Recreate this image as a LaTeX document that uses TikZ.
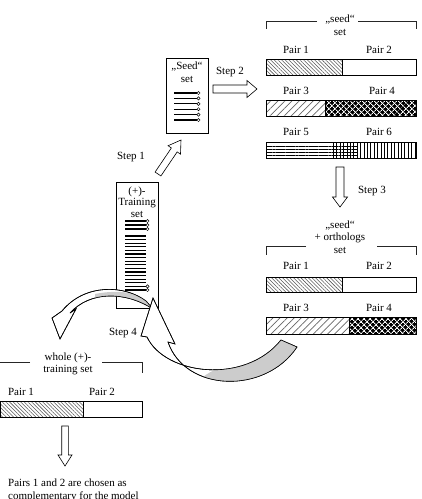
\documentclass[tikz,border=0pt]{standalone}
\usepackage{fontspec}
\setmainfont{Liberation Serif}
\usetikzlibrary{calc,patterns,patterns.meta}
\newcommand\blkarrow[5]{%
  \coordinate (#2-hb) at ($(#2)!#5!(#1)$);
  \draw[blockarrow] ($(#1)!#3!90:(#2)$) -- ($(#2-hb)!#3!-90:(#1)$) -- ($(#2-hb)!#4!-90:(#1)$) -- (#2) -- ($(#2-hb)!#4!90:(#1)$) -- ($(#2-hb)!#3!90:(#1)$) -- ($(#1)!#3!-90:(#2)$) -- cycle;}
\tikzset{
  box/.style={draw, line width=0.7pt, fill=white, inner sep=0pt},
  blockarrow/.style={draw, line width=0.6pt, fill=white, line join=miter},
  lbl/.style={font=\fontsize{11}{12.5}\selectfont, inner sep=0pt, align=center},
  bracket/.style={line width=0.7pt, draw=black!85},
  bar/.style={draw, line width=0.7pt},
  seqline/.style={line width=1.1pt},
  endcirc/.style={draw, line width=0.5pt, fill=white},
  curvband/.style={draw, line width=0.6pt, line join=miter},
  hatchA/.style={pattern={Lines[angle=-45,distance=2.6pt,line width=0.55pt]}, pattern color=black!65},
  hatchB/.style={pattern={Lines[angle=45,distance=5pt,line width=0.7pt]}, pattern color=black!60},
  hlines/.style={pattern={Lines[angle=0,distance=3.3pt,line width=0.6pt]}, pattern color=black},
  vlines/.style={pattern={Lines[angle=90,distance=3.4pt,line width=0.6pt]}, pattern color=black},
  xwhiteA/.style={pattern={Lines[angle=45,distance=4pt,line width=0.9pt]}, pattern color=white},
  xwhiteB/.style={pattern={Lines[angle=-45,distance=4pt,line width=0.9pt]}, pattern color=white},
}
\begin{document}
\begin{tikzpicture}[x=1pt,y=-1pt]
\useasboundingbox (0,0) rectangle (422,499);

% ---------- seed box ----------
\node[box, minimum width=42pt, minimum height=75pt] (seedbox) at (187,95.5) {};
\node[lbl] (seedtitle) at (187,72) {„Seed“\\set};
\foreach \i in {0,...,5} {
  \draw[seqline] (174,{93+5.4*\i}) -- (197,{93+5.4*\i});
  \draw[endcirc] (198.5,{93+5.4*\i}) circle (1.6pt);
}

% ---------- training box ----------
\node[box, minimum width=42pt, minimum height=126pt] (trainbox) at (137,245) {};
\node[lbl, font=\fontsize{11}{11.5}\selectfont] (traintitle) at (137,202) {(+)-\\Training\\set};
\foreach \i in {0,1,2} {
  \draw[seqline] (125,{221+4*\i}) -- (146,{221+4*\i});
  \draw[endcirc] (147.5,{221+4*\i}) circle (1.6pt);
}
\foreach \i in {0,...,15} {
  \draw[seqline] (125,{236+3.6*\i}) -- (146,{236+3.6*\i});
}
\foreach \i in {14,15} {
  \draw[endcirc] (147.5,{236+3.6*\i}) circle (1.6pt);
}

% ---------- step 1 / step 2 arrows ----------
\coordinate (a1s) at (158,174); \coordinate (a1e) at (181,140);
\blkarrow{a1s}{a1e}{3.5pt}{7.5pt}{12pt}
\node[lbl] (step1) at (131,157) {Step 1};

\coordinate (a2s) at (213,89); \coordinate (a2e) at (257,89);
\blkarrow{a2s}{a2e}{4pt}{8.5pt}{10pt}
\node[lbl] (step2) at (230,72) {Step 2};

% ---------- seed set (right top) ----------
\node[lbl] (seedhead) at (340,25) {„seed“\\set};
\draw[bracket] (317,21) -- (266,21) -- (266,29);
\draw[bracket] (358,21) -- (416,21) -- (416,29);

\node[lbl] (s-p1) at (296,50) {Pair 1};
\node[lbl] (s-p2) at (379,50) {Pair 2};
\fill[hatchA] (266,59) rectangle (342,75);
\draw[bar] (266,59) rectangle (416,75);
\draw[bar] (342,59) -- (342,75);

\node[lbl] (s-p3) at (296,91) {Pair 3};
\node[lbl] (s-p4) at (382,91) {Pair 4};
\fill[hatchB] (266,100) rectangle (325,116);
\fill[black] (325,100) rectangle (416,116);
\fill[xwhiteA] (325,100) rectangle (416,116);
\fill[xwhiteB] (325,100) rectangle (416,116);
\draw[bar] (266,100) rectangle (416,116);
\draw[bar] (325,100) -- (325,116);

\node[lbl] (s-p5) at (296,132) {Pair 5};
\node[lbl] (s-p6) at (379,132) {Pair 6};
\fill[hlines] (266,142) rectangle (358,158);
\fill[vlines] (333,142) rectangle (416,158);
\draw[bar] (266,142) rectangle (416,158);

% ---------- step 3 ----------
\coordinate (a3s) at (340,167); \coordinate (a3e) at (340,207);
\blkarrow{a3s}{a3e}{4pt}{7.5pt}{10pt}
\node[lbl] (step3) at (372,191) {Step 3};

% ---------- seed + orthologs set ----------
\node[lbl] (orthhead) at (340,237) {„seed“\\+ orthologs\\set};
\draw[bracket] (306,246) -- (266,246) -- (266,255);
\draw[bracket] (377,246) -- (416,246) -- (416,255);

\node[lbl] (o-p1) at (296,266) {Pair 1};
\node[lbl] (o-p2) at (379,266) {Pair 2};
\fill[hatchA] (266,277) rectangle (342,292);
\draw[bar] (266,277) rectangle (416,292);
\draw[bar] (342,277) -- (342,292);

\node[lbl] (o-p3) at (296,308) {Pair 3};
\node[lbl] (o-p4) at (379,308) {Pair 4};
\fill[hatchB] (266,317) rectangle (349,334);
\fill[black] (349,317) rectangle (416,334);
\fill[xwhiteA] (349,317) rectangle (416,334);
\fill[xwhiteB] (349,317) rectangle (416,334);
\draw[bar] (266,317) rectangle (416,334);
\draw[bar] (349,317) -- (349,334);

% ---------- curved arrow to whole set ----------
\draw[curvband, fill=white] (146,301) .. controls (125,285) and (85,283) .. (62,311) -- (52,318) -- (60,339) -- (76,309) -- (70,313) .. controls (90,291) and (125,291) .. (153,309) -- cycle;
\begin{scope}
  \clip (146,301) .. controls (125,285) and (85,283) .. (62,311) -- (70,313) .. controls (90,291) and (125,291) .. (153,309) -- cycle;
  \fill[gray!40] (95,294) .. controls (120,289) and (140,293) .. (150,303) -- (165,320) -- (95,320) -- cycle;
\end{scope}
\draw[curvband] (146,301) .. controls (125,285) and (85,283) .. (62,311) -- (52,318) -- (60,339) -- (76,309) -- (70,313) .. controls (90,291) and (125,291) .. (153,309) -- cycle;

% ---------- curved arrow step 4 ----------
\draw[curvband, fill=white] (147,337) .. controls (165,375) and (245,385) .. (281,340) -- (297,347) .. controls (265,395) and (185,392) .. (168,342) -- (175,344) -- (153,298) -- (141,336) -- cycle;
\begin{scope}
  \clip (147,337) .. controls (165,375) and (245,385) .. (281,340) -- (297,347) .. controls (265,395) and (185,392) .. (168,342) -- cycle;
  \fill[gray!40] (198,381) .. controls (208,372) and (220,366) .. (240,362) -- (300,330) -- (320,330) -- (320,400) -- (198,400) -- cycle;
\end{scope}
\draw[curvband] (147,337) .. controls (165,375) and (245,385) .. (281,340) -- (297,347) .. controls (265,395) and (185,392) .. (168,342) -- (175,344) -- (153,298) -- (141,336) -- cycle;
\node[lbl] (step4) at (123,333) {Step 4};

% ---------- whole (+)-training set ----------
\node[lbl] (wholehead) at (68,364) {whole (+)-\\training set};
\draw[bracket] (30,362) -- (0,362);
\draw[bracket] (102,362) -- (142,362) -- (142,373);

\node[lbl] (w-p1) at (21,392) {Pair 1};
\node[lbl] (w-p2) at (102,392) {Pair 2};
\fill[hatchA] (0,401) rectangle (83,417);
\draw[bar] (0.35,401) rectangle (142,417);
\draw[bar] (83,401) -- (83,417);

\coordinate (a5s) at (65,426); \coordinate (a5e) at (65,466);
\blkarrow{a5s}{a5e}{3.3pt}{7pt}{11pt}

\node[lbl, align=left, anchor=north west] (concl) at (8,479) {Pairs 1 and 2 are chosen as\\complementary for the model};
\end{tikzpicture}
\end{document}
